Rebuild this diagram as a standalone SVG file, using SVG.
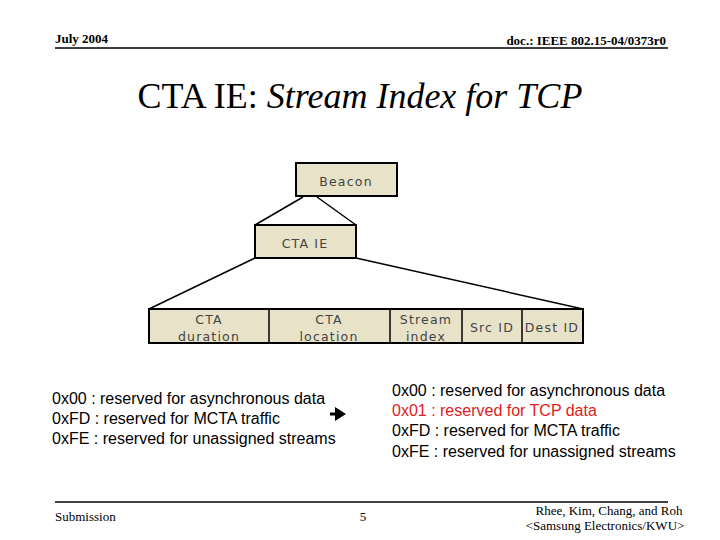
<svg xmlns="http://www.w3.org/2000/svg" width="720" height="540" viewBox="0 0 720 540">
<style>
.hd{font-family:"Liberation Serif",serif;font-size:13px}
.bx{fill:#e8e2c8;stroke:#000;stroke-width:2}
.bt{font-family:"DejaVu Sans",sans-serif;font-size:12.5px;fill:#444;text-anchor:middle;letter-spacing:1.2px}
.lt{font-family:"Liberation Sans",sans-serif;font-size:16px;fill:#000}
.red{fill:#e02020}
.ln{stroke:#000;stroke-width:1.5;fill:none}
</style>
<rect width="720" height="540" fill="#fff"/>
<text x="55" y="43" class="hd" font-weight="bold">July 2004</text>
<text x="666" y="45" class="hd" font-weight="bold" text-anchor="end">doc.: IEEE 802.15-04/0373r0</text>
<line x1="55" y1="48" x2="668" y2="48" stroke="#000" stroke-width="1.5"/>
<text x="360" y="108" font-family="Liberation Serif,serif" font-size="36" text-anchor="middle">CTA IE: <tspan font-style="italic">Stream Index for TCP</tspan></text>
<g id="connectors">
<line class="ln" x1="303" y1="197" x2="255" y2="225"/>
<line class="ln" x1="317" y1="197" x2="356" y2="225"/>
<line class="ln" x1="255" y1="258" x2="149" y2="309"/>
<line class="ln" x1="356" y1="258" x2="583" y2="309" stroke-width="1"/>
</g>
<g id="beacon"><rect class="bx" x="296" y="163" width="101" height="33"/><text class="bt" x="346" y="186">Beacon</text></g>
<g id="ctaie"><rect class="bx" x="255" y="225" width="101" height="33"/><text class="bt" x="305" y="248">CTA IE</text></g>
<g id="fields">
<rect class="bx" x="149" y="309" width="434" height="34"/>
<line class="ln" x1="269" y1="309" x2="269" y2="343"/>
<line class="ln" x1="390" y1="309" x2="390" y2="343"/>
<line class="ln" x1="462" y1="309" x2="462" y2="343"/>
<line class="ln" x1="522" y1="309" x2="522" y2="343"/>
<text class="bt" x="209" y="324">CTA</text><text class="bt" x="209" y="341">duration</text>
<text class="bt" x="329" y="324">CTA</text><text class="bt" x="329" y="341">location</text>
<text class="bt" x="426" y="324">Stream</text><text class="bt" x="426" y="341">index</text>
<text class="bt" x="492" y="332">Src ID</text>
<text class="bt" x="552" y="332">Dest ID</text>
</g>
<g id="old">
<text class="lt" x="52" y="404">0x00 : reserved for asynchronous data</text>
<text class="lt" x="52" y="424">0xFD : reserved for MCTA traffic</text>
<text class="lt" x="52" y="444">0xFE : reserved for unassigned streams</text>
</g>
<g id="arrow"><line x1="330" y1="414" x2="338" y2="414" stroke="#000" stroke-width="3"/><polygon points="335,407 346,414 335,421" fill="#000"/></g>
<g id="new">
<text class="lt" x="392" y="396">0x00 : reserved for asynchronous data</text>
<text class="lt red" x="392" y="416">0x01 : reserved for TCP data</text>
<text class="lt" x="392" y="436">0xFD : reserved for MCTA traffic</text>
<text class="lt" x="392" y="457">0xFE : reserved for unassigned streams</text>
</g>
<line x1="55" y1="502" x2="668" y2="502" stroke="#000" stroke-width="1.5"/>
<text x="55" y="521" class="hd">Submission</text>
<text x="363" y="521" class="hd" text-anchor="middle">5</text>
<text x="609" y="515" class="hd" text-anchor="middle">Rhee, Kim, Chang, and Roh</text>
<text x="605" y="530" class="hd" text-anchor="middle">&lt;Samsung Electronics/KWU&gt;</text>
</svg>
